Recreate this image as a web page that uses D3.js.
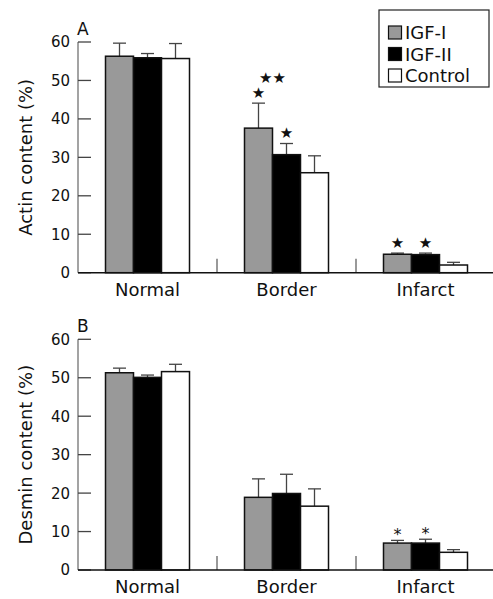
<!DOCTYPE html>
<html><head><meta charset="utf-8">
<script src="https://cdn.jsdelivr.net/npm/d3@7"></script>
<style>body{margin:0;background:#fff}svg{display:block}text{font-family:"DejaVu Sans",sans-serif;fill:#111}</style>
</head><body>
<script>
const categories = ["Normal", "Border", "Infarct"];
const series = ["IGF-I", "IGF-II", "Control"];
const yTicks = [0, 10, 20, 30, 40, 50, 60];
// Panel A: actin
const actinMean = [[56.3, 55.9, 55.7], [37.6, 30.7, 26.0], [4.8, 4.7, 2.0]];
const actinErr = [[3.4, 1.1, 3.9], [6.5, 2.9, 4.4], [0.3, 0.4, 0.7]];
const actinMarks = [
  {cat: "Border", s: "IGF-I", label: "★", row: 1},
  {cat: "Border", s: "IGF-I", label: "★★", row: 2},
  {cat: "Border", s: "IGF-II", label: "★", row: 1},
  {cat: "Infarct", s: "IGF-I", label: "★", row: 1},
  {cat: "Infarct", s: "IGF-II", label: "★", row: 1}
];
// Panel B: desmin
const desminMean = [[51.3, 50.1, 51.6], [18.9, 19.9, 16.6], [7.0, 7.0, 4.6]];
const desminErr = [[1.2, 0.6, 1.9], [4.8, 5.0, 4.5], [0.7, 1.0, 0.7]];
const desminMarks = [
  {cat: "Infarct", s: "IGF-I", label: "*", row: 1},
  {cat: "Infarct", s: "IGF-II", label: "*", row: 1}
];

const W = 493, H = 599;
const fills = {"IGF-I": "#999999", "IGF-II": "#000000", "Control": "#ffffff"};
const svg = d3.select("body").append("svg").attr("width", W).attr("height", H);

const x0 = d3.scaleBand().domain(categories).range([78, 495]);
const barW = 28;
const po = (x0.bandwidth() / barW - series.length) / 2;
const x1 = d3.scaleBand().domain(series).range([0, x0.bandwidth()]).paddingInner(0).paddingOuter(po);

function panel(cfg) {
  const y = d3.scaleLinear().domain([0, 60]).range([cfg.bottom, cfg.top]);
  const g = svg.append("g");
  g.append("line").attr("x1", 78).attr("x2", 78).attr("y1", y(60)).attr("y2", y(0))
    .attr("stroke", "#666").attr("stroke-width", 1.2);
  g.selectAll(".yt").data(yTicks).enter().append("line")
    .attr("x1", 78).attr("x2", 91).attr("y1", d => y(d)).attr("y2", d => y(d))
    .attr("stroke", "#444").attr("stroke-width", 1.3);
  g.selectAll(".yl").data(yTicks).enter().append("text")
    .attr("x", 70).attr("y", d => y(d)).attr("dy", "0.36em")
    .attr("text-anchor", "end").attr("font-size", 15).text(d => d);
  g.append("text").attr("x", 77).attr("y", y(60) - 7).attr("font-size", 17).text(cfg.letter);
  g.append("text").attr("transform", `translate(32,${(y(0) + y(60)) / 2}) rotate(-90)`)
    .attr("text-anchor", "middle").attr("font-size", 18).text(cfg.title);
  g.selectAll(".sep").data(categories.slice(1)).enter().append("line")
    .attr("x1", d => x0(d)).attr("x2", d => x0(d)).attr("y1", y(0) - 14).attr("y2", y(0))
    .attr("stroke", "#555").attr("stroke-width", 1.2);
  const data = [];
  categories.forEach((c, i) => series.forEach((s, j) => data.push({c, s, v: cfg.mean[i][j], e: cfg.err[i][j]})));
  const eg = g.selectAll(".err").data(data).enter().append("g");
  eg.append("line").attr("x1", d => x0(d.c) + x1(d.s) + barW / 2).attr("x2", d => x0(d.c) + x1(d.s) + barW / 2)
    .attr("y1", d => y(d.v)).attr("y2", d => y(d.v + d.e)).attr("stroke", "#444").attr("stroke-width", 1.3);
  eg.append("line").attr("x1", d => x0(d.c) + x1(d.s) + barW / 2 - 6.5).attr("x2", d => x0(d.c) + x1(d.s) + barW / 2 + 6.5)
    .attr("y1", d => y(d.v + d.e)).attr("y2", d => y(d.v + d.e)).attr("stroke", "#444").attr("stroke-width", 1.3);
  g.selectAll(".bar").data(data).enter().append("rect")
    .attr("x", d => x0(d.c) + x1(d.s)).attr("width", barW)
    .attr("y", d => y(d.v)).attr("height", d => y(0) - y(d.v))
    .attr("fill", d => fills[d.s]).attr("stroke", "#111").attr("stroke-width", 1.5);
  g.append("line").attr("x1", 78).attr("x2", W).attr("y1", y(0)).attr("y2", y(0))
    .attr("stroke", "#111").attr("stroke-width", 1.5);
  g.selectAll(".cl").data(categories).enter().append("text")
    .attr("x", d => x0(d) + x0.bandwidth() / 2).attr("y", y(0) + 23)
    .attr("text-anchor", "middle").attr("font-size", 18).text(d => d);
  const lookup = (c, s) => data.find(d => d.c === c && d.s === s);
  g.selectAll(".mk").data(cfg.marks).enter().append("text")
    .attr("x", d => x0(d.cat) + x1(d.s) + barW / 2 + (d.row === 2 ? 14 : 0))
    .attr("y", d => { const b = lookup(d.cat, d.s); return y(b.v + b.e) - (d.row === 2 ? 26 : 11) + (d.label === "*" ? 11 : 5.5); })
    .attr("text-anchor", "middle").attr("font-size", d => d.label === "*" ? 16 : 15).text(d => d.label);
}

panel({top: 42, bottom: 272.7, letter: "A", title: "Actin content (%)", mean: actinMean, err: actinErr, marks: actinMarks});
panel({top: 339.3, bottom: 570, letter: "B", title: "Desmin content (%)", mean: desminMean, err: desminErr, marks: desminMarks});

const lg = svg.append("g");
lg.append("rect").attr("x", 379).attr("y", 10).attr("width", 110).attr("height", 77)
  .attr("fill", "#fff").attr("stroke", "#222").attr("stroke-width", 1.2);
const ly = d3.scalePoint().domain(series).range([33, 76]);
lg.selectAll(".sw").data(series).enter().append("rect")
  .attr("x", 388.5).attr("y", d => ly(d) - 7).attr("width", 13).attr("height", 13)
  .attr("fill", d => fills[d]).attr("stroke", "#111").attr("stroke-width", 1.2);
lg.selectAll(".lt").data(series).enter().append("text")
  .attr("x", 405).attr("y", d => ly(d)).attr("dy", "0.36em").attr("font-size", 18).text(d => d);
</script>
</body></html>
